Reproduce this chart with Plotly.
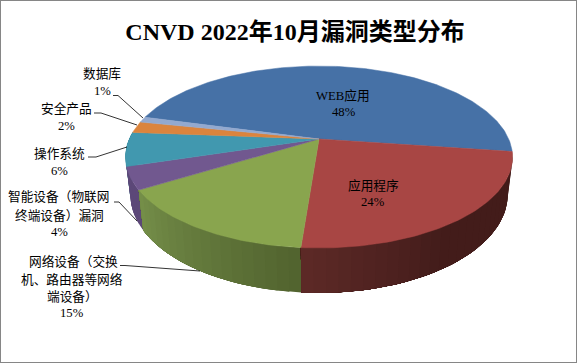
import numpy as np
import plotly.graph_objects as go

CATEGORIES = ["WEB应用", "应用程序", "网络设备（交换机、路由器等网络端设备）",
              "智能设备（物联网终端设备）漏洞", "操作系统", "安全产品", "数据库"]
VALUES = [48, 24, 15, 4, 6, 2, 1]
COLORS = ["#4671A6", "#A84644", "#89A54E", "#71588F", "#4198AF", "#DB843D", "#93A9CF"]
TITLE = "CNVD 2022年10月漏洞类型分布"

W, H = 577, 363
CX, CY = 319, 139
A, B, K = 189.7, 87.4, 0.198
DEPTH, SHRINK = 36, 0.975
START_DEG = 8 - 172.8


def top_rim(t):
    d = 1 - K * np.sin(t)
    return CX + A * np.cos(t) / d, CY + B * np.sin(t) / d


def bottom_rim(t):
    x, y = top_rim(t)
    return CX + (x - CX) * SHRINK, y + DEPTH / (1 - K * np.sin(t))


def mix(c1, c2, f):
    a = [int(c1[i:i + 2], 16) for i in (1, 3, 5)]
    b = [int(c2[i:i + 2], 16) for i in (1, 3, 5)]
    return "rgb(%d,%d,%d)" % tuple(round(p + (q - p) * f) for p, q in zip(a, b))


shares = np.array(VALUES) / sum(VALUES) * 360
edges = START_DEG + np.concatenate([[0], np.cumsum(shares)])

# colours of the side wall at the start and end of each slice
WALL = {1: ("#431C1A", "#5E2A27"), 2: ("#52642F", "#76904A"),
        3: ("#5C4878", "#5C4878"), 4: ("#36808F", "#36808F")}

fig = go.Figure()

for i in sorted(WALL, reverse=True):
    c0, c1 = WALL[i]
    a0, a1 = edges[i], edges[i + 1]
    lo = max(a0, 5)
    n = max(int((a1 - lo) / 3), 1)
    steps = np.linspace(lo, a1, n + 1)
    # each strip runs on to the far end of the slice's next strip so no seam shows
    for j in range(n):
        f = j / n
        if i == 1:
            f = max(0, (f - 0.55) / 0.45)
        col = mix(c0, c1, f)
        t = np.radians(np.linspace(steps[j], a1, max(int((a1 - steps[j]) / 2), 3)))
        xt, yt = top_rim(t)
        xb, yb = bottom_rim(t)
        fig.add_trace(go.Scatter(
            x=np.r_[xt, xb[::-1]], y=np.r_[yt, yb[::-1]], mode="lines",
            fill="toself", fillcolor=col, line=dict(width=0),
            hoverinfo="skip", showlegend=False))

for i, (name, val, col) in enumerate(zip(CATEGORIES, VALUES, COLORS)):
    t = np.radians(np.linspace(edges[i], edges[i + 1], max(int(shares[i]), 4)))
    xr, yr = top_rim(t)
    fig.add_trace(go.Scatter(
        x=np.r_[CX, xr, CX], y=np.r_[CY, yr, CY], mode="lines",
        fill="toself", fillcolor=col, line=dict(color=col, width=0.5),
        name=name, text=f"{name} {val}%", hoverinfo="text", showlegend=False))

# data labels, one line each: text, x centre, y centre
LABELS = [
    ("数据库", 102, 73), ("1%", 102, 91),
    ("安全产品", 66, 108), ("2%", 66, 126),
    ("操作系统", 59, 153), ("6%", 59, 171),
    ("智能设备（物联网", 59, 197), ("终端设备）漏洞", 59.5, 215), ("4%", 59, 232),
    ("网络设备（交换", 73, 261), ("机、路由器等网络", 72, 279), ("端设备）", 72, 297), ("15%", 72, 313),
    ("WEB应用", 343, 95), ("48%", 344, 112),
    ("应用程序", 373, 185), ("24%", 373, 202),
]
annotations = [dict(text=t, x=x, y=y, xref="x", yref="y", showarrow=False,
                    xanchor="center", yanchor="middle",
                    font=dict(family="Liberation Serif, Noto Sans CJK SC", size=12.7, color="#000000"))
               for t, x, y in LABELS]

LEADERS = [
    "M113,95.5 L118,95.5 L143,118",
    "M94,113 L101,113 L137,125",
    "M88,157 L96,157 L127,147",
    "M114,202 L119,202 L137,221",
    "M120,265.5 L125,265.5 L200,271",
]
shapes = [dict(type="path", path=p, xref="x", yref="y", line=dict(color="#000000", width=0.8))
          for p in LEADERS]
shapes.append(dict(type="rect", xref="paper", yref="paper", x0=0, y0=0, x1=1, y1=1,
                   line=dict(color="#868686", width=2)))

fig.update_layout(
    width=W, height=H, autosize=False, margin=dict(l=0, r=0, t=0, b=0),
    paper_bgcolor="#FFFFFF", plot_bgcolor="#FFFFFF", showlegend=False,
    title=dict(text=TITLE, x=295 / W, y=1 - 32 / H, xanchor="center", yanchor="middle",
               font=dict(family="Liberation Serif, Noto Sans CJK SC", size=24, color="#000000", weight="bold")),
    xaxis=dict(range=[0, W], visible=False, fixedrange=True),
    yaxis=dict(range=[H, 0], visible=False, fixedrange=True),
    annotations=annotations, shapes=shapes,
)
fig.write_html("out.html", config=dict(displayModeBar=False),
               post_script="document.body.style.margin='0';document.documentElement.style.overflow='hidden';")
